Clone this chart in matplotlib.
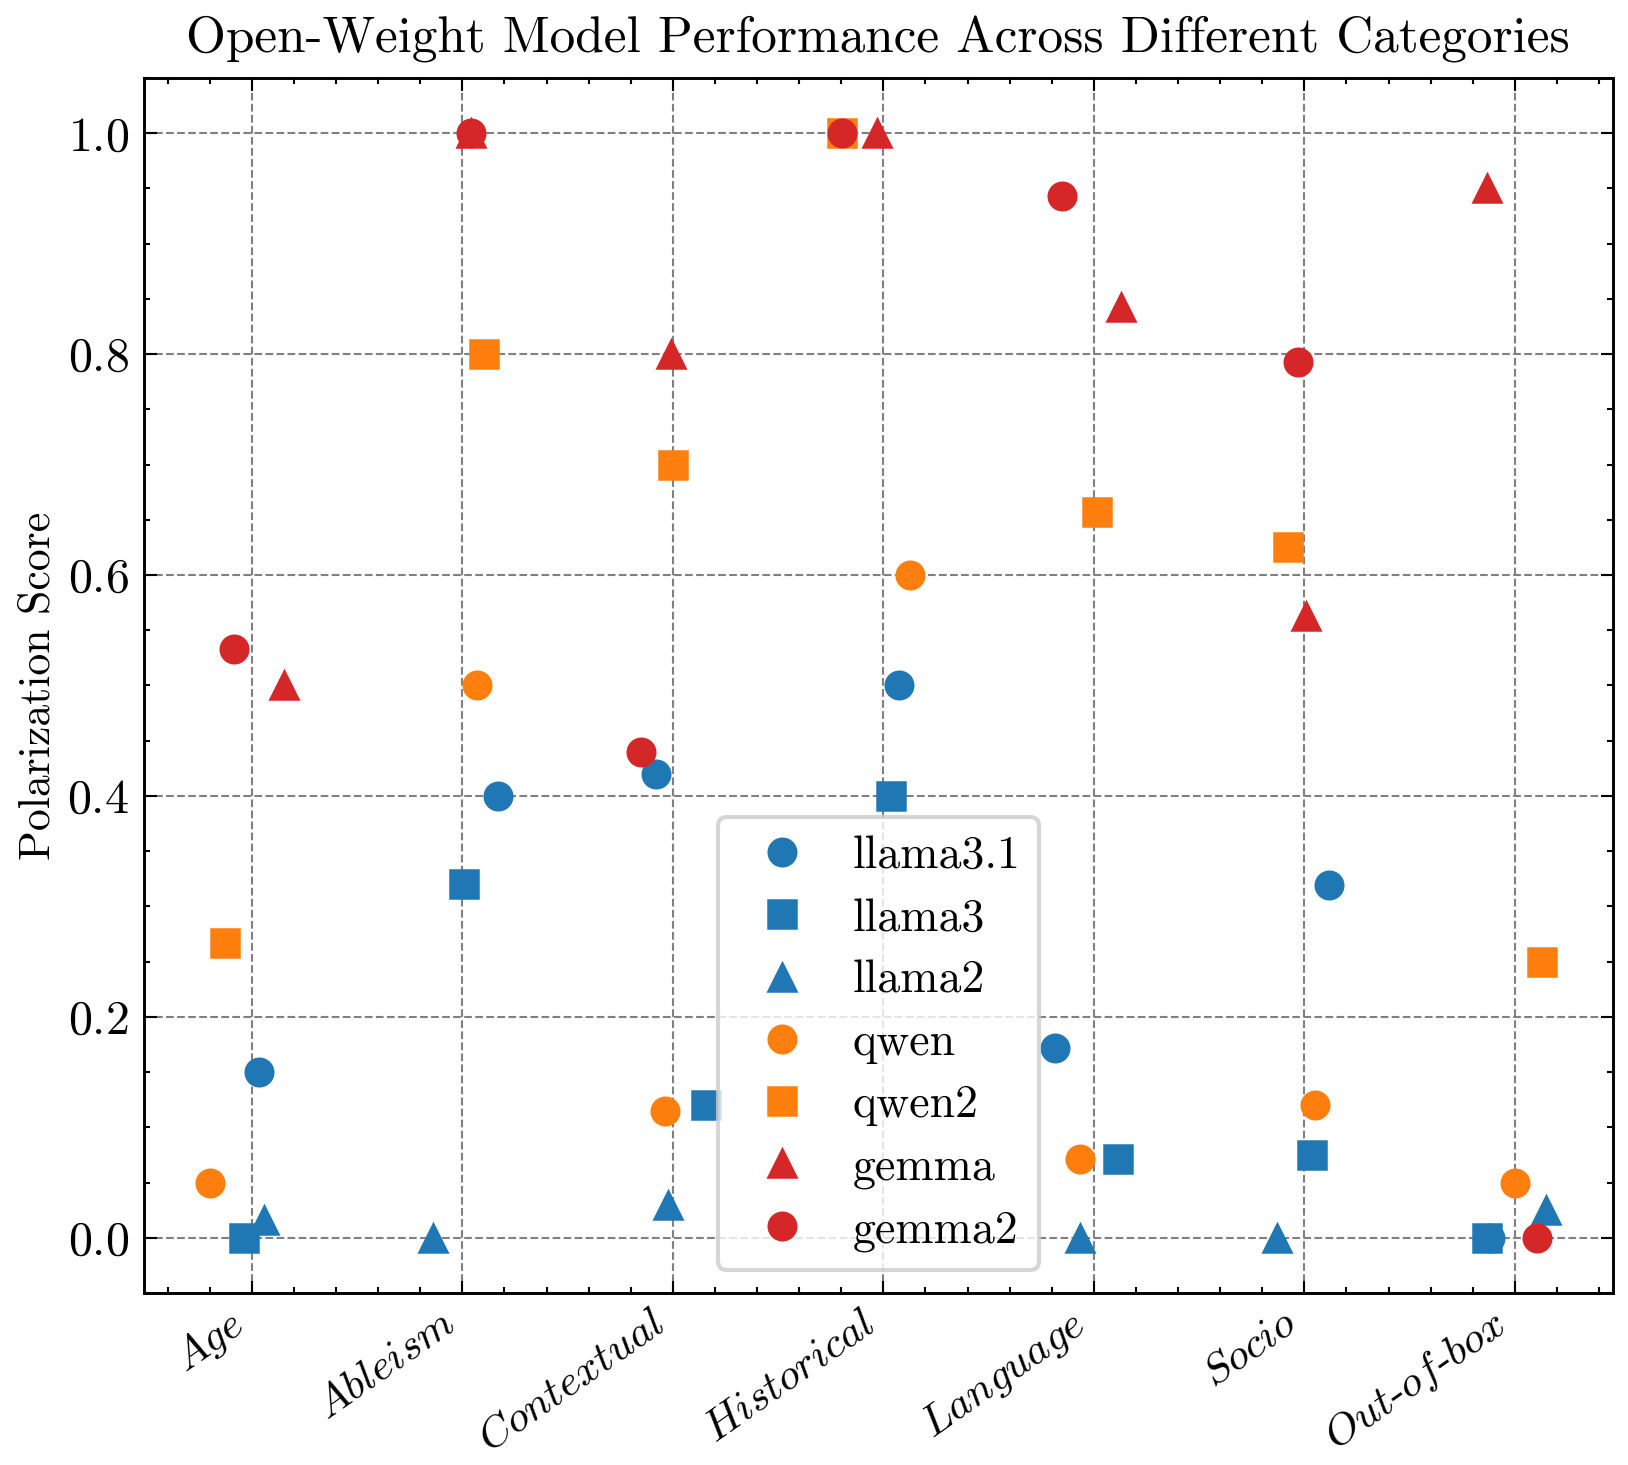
import numpy as np
import matplotlib
matplotlib.use('Agg')
import matplotlib.pyplot as plt
from matplotlib.ticker import AutoMinorLocator, MultipleLocator

plt.rcParams['font.family'] = 'serif'
plt.rcParams['font.serif'] = ['cmr10']
plt.rcParams['mathtext.fontset'] = 'cm'
plt.rcParams['axes.formatter.use_mathtext'] = True
plt.rcParams['font.size'] = 10

categories = ['Age', 'Ableism', 'Contextual', 'Historical', 'Language', 'Socio', 'Out-of-box']
models = ['llama3.1', 'llama3', 'llama2', 'qwen', 'qwen2', 'gemma', 'gemma2']

# llama2 / Historical is not visible in the reference (hidden by legend)
scores = {
    'llama3.1': [0.15, 0.40, 0.42, 0.50, 0.172, 0.319, 0.0],
    'llama3':   [0.0, 0.32, 0.12, 0.40, 0.071, 0.075, 0.0],
    'llama2':   [0.0165, 0.0, 0.03, np.nan, 0.0, 0.0, 0.025],
    'qwen':     [0.05, 0.50, 0.115, 0.60, 0.071, 0.12, 0.05],
    'qwen2':    [0.267, 0.80, 0.70, 1.0, 0.657, 0.625, 0.25],
    'gemma':    [0.50, 1.0, 0.80, 1.0, 0.843, 0.5625, 0.95],
    'gemma2':   [0.533, 1.0, 0.44, 1.0, 0.943, 0.793, 0.0],
}

# horizontal jitter of each point around its category
jitter = {
    'llama3.1': [0.034, 0.170, -0.078, 0.076, -0.186, 0.116, -0.12],
    'llama3':   [-0.039, 0.007, 0.157, 0.035, 0.115, 0.036, -0.130],
    'llama2':   [0.059, -0.139, -0.022, -0.05, -0.067, -0.130, 0.149],
    'qwen':     [-0.197, 0.068, -0.039, 0.126, -0.067, 0.049, 0.0],
    'qwen2':    [-0.129, 0.102, 0.0, -0.197, 0.014, -0.076, 0.128],
    'gemma':    [0.155, 0.040, -0.007, -0.031, 0.131, 0.009, -0.134],
    'gemma2':   [-0.087, 0.039, -0.151, -0.197, -0.151, -0.030, 0.104],
}

colors = {'llama3.1': '#1f77b4', 'llama3': '#1f77b4', 'llama2': '#1f77b4',
          'qwen': '#ff7f0e', 'qwen2': '#ff7f0e', 'gemma': '#d62728', 'gemma2': '#d62728'}
markers = {'llama3.1': 'o', 'llama3': 's', 'llama2': '^',
           'qwen': 'o', 'qwen2': 's', 'gemma': '^', 'gemma2': 'o'}

fig = plt.figure(figsize=(1628 / 300, 1465 / 300), dpi=300)
ax = fig.add_axes([0.0882, 0.1174, 0.9908 - 0.0882, 0.9468 - 0.1174])

x = np.arange(len(categories))
for m in models:
    ax.plot(x + np.array(jitter[m]), scores[m], linestyle='none',
            marker=markers[m], color=colors[m], markersize=6.6,
            markeredgewidth=0.6, label=m)

ax.set_xticks(x)
ax.set_xticklabels(['$\\mathit{Age}$', '$\\mathit{Ableism}$', '$\\mathit{Contextual}$',
                    '$\\mathit{Historical}$', '$\\mathit{Language}$', '$\\mathit{Socio}$',
                    '$\\mathit{Out}$-$\\mathit{of}$-$\\mathit{box}$'],
                   rotation=35, ha='right', fontsize=10.5)
ax.yaxis.set_major_locator(MultipleLocator(0.2))
ax.xaxis.set_minor_locator(AutoMinorLocator(5))
ax.yaxis.set_minor_locator(AutoMinorLocator(4))
ax.tick_params(which='both', direction='in', top=True, right=True, width=0.5)
ax.tick_params(which='major', length=3)
ax.tick_params(axis='x', which='major', pad=2.5)
ax.tick_params(axis='y', which='major', labelsize=11.5)
ax.tick_params(which='minor', length=1.5)
for s in ax.spines.values():
    s.set_linewidth(0.7)

ax.grid(True, which='major', linestyle='--', color='gray', linewidth=0.5)
ax.set_axisbelow(True)

ax.set_ylabel('Polarization Score', fontsize=10.5, labelpad=2)
ax.set_title('Open-Weight Model Performance Across Different Categories', fontsize=12.3)
ax.legend(loc='lower center', fontsize=11, labelspacing=0.45, handletextpad=0.55)

fig.savefig('out.png', dpi=300)
